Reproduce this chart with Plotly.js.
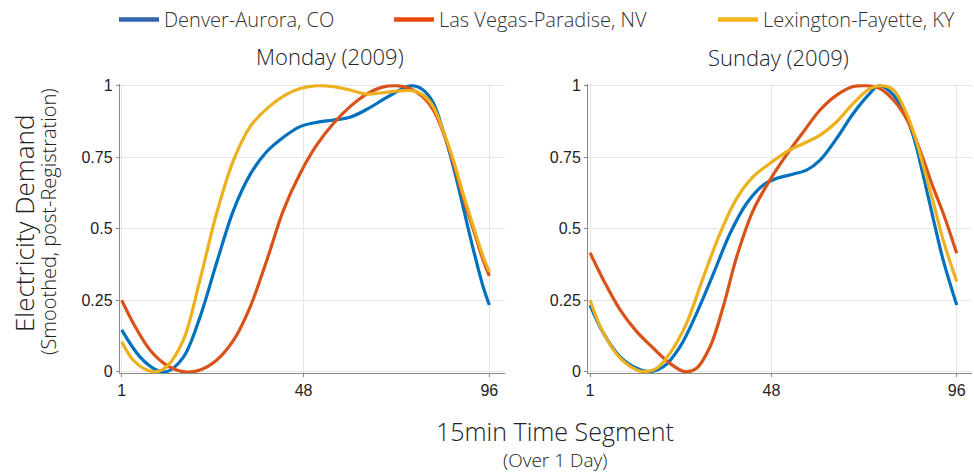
<!DOCTYPE html>
<html>
<head>
<meta charset="utf-8">
<script src="https://cdn.plot.ly/plotly-3.0.1.min.js"></script>
<style>html,body{margin:0;padding:0;background:#fff;}#chart{width:974px;height:473px;}</style>
</head>
<body>
<div id="chart"></div>
<script>
// ---- Data ----
const seriesNames = ["Denver-Aurora, CO", "Las Vegas-Paradise, NV", "Lexington-Fayette, KY"];
const panelTitles = ["Monday (2009)", "Sunday (2009)"];
const xTickVals = [1, 48, 96];
const yTickVals = [0, 0.25, 0.5, 0.75, 1];
const yTickText = ["0", "0.25", "0.5", "0.75", "1"];

// Monday
const monDenverX = [1, 5.7, 10, 12.6, 16.9, 21.2, 25.5, 29.9, 34.2, 38.5, 42.8, 47.1, 51.4, 55.7, 60, 64.3, 68.6, 72.9, 75.9, 78.9, 81.5, 84, 86.7, 89.2, 91.9, 94.4, 96];
const monDenverY = [0.146, 0.052, 0.006, 0, 0.05, 0.19, 0.38, 0.565, 0.69, 0.77, 0.82, 0.857, 0.872, 0.88, 0.89, 0.917, 0.952, 0.985, 1.0, 0.985, 0.94, 0.845, 0.717, 0.577, 0.425, 0.297, 0.233];
const monVegasX = [1, 4, 8.3, 12.6, 16.9, 21.2, 25.5, 29.9, 34.2, 38.5, 42.8, 47.1, 51.4, 55.7, 60, 64.3, 68.6, 72, 75.5, 78.9, 81.5, 84, 86.7, 89.2, 91.9, 94.4, 96];
const monVegasY = [0.25, 0.169, 0.076, 0.023, 0, 0.006, 0.04, 0.11, 0.227, 0.39, 0.565, 0.693, 0.793, 0.868, 0.927, 0.971, 0.996, 1.0, 0.99, 0.96, 0.915, 0.84, 0.73, 0.61, 0.495, 0.39, 0.335];
const monLexX = [1, 4, 7.5, 10, 12.6, 16.9, 21.2, 25.5, 29.9, 34.2, 38.5, 42.8, 47.1, 51.4, 55.7, 60, 64.3, 68.6, 72.9, 76.4, 78.9, 81.5, 84, 86.7, 89.2, 91.9, 94.4, 96];
const monLexY = [0.105, 0.04, 0.006, 0, 0.017, 0.11, 0.32, 0.553, 0.74, 0.857, 0.92, 0.964, 0.99, 1.0, 0.997, 0.985, 0.971, 0.976, 0.982, 0.982, 0.967, 0.927, 0.845, 0.74, 0.623, 0.507, 0.402, 0.35];

// Sunday
const sunDenverX = [1, 4.5, 8.8, 13.1, 16.5, 20, 24.3, 28.6, 33, 37.3, 41.6, 45.9, 49.4, 53.7, 57.1, 60.6, 64.9, 69.2, 73.5, 75.7, 78.7, 82.2, 84.8, 87.4, 90, 92.5, 96];
const sunDenverY = [0.233, 0.134, 0.052, 0.012, 0, 0.017, 0.087, 0.204, 0.344, 0.484, 0.589, 0.653, 0.676, 0.691, 0.705, 0.74, 0.816, 0.903, 0.973, 1.0, 0.98, 0.915, 0.822, 0.682, 0.53, 0.39, 0.233];
const sunVegasX = [1, 4.5, 8.8, 13.1, 17.4, 21.7, 25.6, 28.6, 32.1, 35.5, 39, 43.3, 47.6, 51.9, 56.3, 60.6, 64.9, 69.2, 72.7, 76.1, 79.6, 82.2, 84.8, 87.4, 90, 92.5, 96];
const sunVegasY = [0.416, 0.32, 0.216, 0.14, 0.082, 0.029, 0, 0.012, 0.087, 0.227, 0.402, 0.565, 0.67, 0.758, 0.839, 0.915, 0.967, 0.997, 1.0, 0.99, 0.95, 0.903, 0.833, 0.74, 0.641, 0.554, 0.414];
const sunLexX = [1, 4.5, 8.8, 13.1, 15.2, 18.3, 21.7, 26, 30.4, 34.7, 39, 43.3, 47.6, 51.9, 56.3, 60.6, 64.9, 69.2, 73.5, 76.6, 79.6, 82.2, 84.8, 87.4, 90, 92.5, 96];
const sunLexY = [0.25, 0.134, 0.047, 0.006, 0, 0.012, 0.064, 0.169, 0.332, 0.484, 0.606, 0.682, 0.728, 0.769, 0.798, 0.827, 0.874, 0.938, 0.99, 1.0, 0.985, 0.927, 0.839, 0.717, 0.589, 0.46, 0.315];

// ---- Styles ----
const lineColors = ["#0072BD", "#D95319", "#EDB120"];
const legendColors = ["#3366B0", "#E8490F", "#F5B21C"];
const titleFont = "'Open Sans', Lato, sans-serif";
const tickFont = "Arial, 'Liberation Sans', Helvetica, sans-serif";
const legendX = [114, 389, 713];

const panels = [
  [[monDenverX, monDenverY], [monVegasX, monVegasY], [monLexX, monLexY]],
  [[sunDenverX, sunDenverY], [sunVegasX, sunVegasY], [sunLexX, sunLexY]]
];

const traces = [];
panels.forEach((panel, p) => {
  panel.forEach((s, i) => {
    traces.push({
      x: s[0], y: s[1], type: "scatter", mode: "lines",
      line: {color: lineColors[i], width: 3.2, shape: "spline", smoothing: 1},
      xaxis: p === 0 ? "x" : "x2", yaxis: p === 0 ? "y" : "y2",
      showlegend: false, hoverinfo: "skip"
    });
  });
});
// legend entries (one legend each so they can be placed like the reference)
const legendIds = ["legend", "legend2", "legend3"];
seriesNames.forEach((n, i) => {
  traces.push({
    x: [null], y: [null], type: "scatter", mode: "lines", name: n,
    line: {color: legendColors[i], width: 4.5}, xaxis: "x", yaxis: "y",
    showlegend: true, legend: legendIds[i]
  });
});

function xax(domain) {
  return {
    domain: domain, range: [0.5, 100], tickvals: xTickVals, ticktext: xTickVals.map(String),
    showgrid: true, gridcolor: "#e6e6e6", gridwidth: 1, zeroline: false,
    showline: true, linecolor: "#8a8a8a", linewidth: 1,
    ticks: "outside", ticklen: 3, tickcolor: "#8a8a8a", automargin: false,
    tickfont: {family: tickFont, size: 16, color: "#222"}, fixedrange: true
  };
}
function yax(anchor) {
  return {
    domain: [0.2112, 0.8218], range: [-0.005, 1.005], tickvals: yTickVals, ticktext: yTickText,
    showgrid: true, gridcolor: "#e6e6e6", gridwidth: 1, zeroline: false,
    showline: true, linecolor: "#8a8a8a", linewidth: 1,
    ticks: "outside", ticklen: 3, tickcolor: "#8a8a8a", anchor: anchor, automargin: false,
    tickfont: {family: tickFont, size: 16, color: "#222"}, fixedrange: true
  };
}
function leg(px) {
  return {
    orientation: "h", x: px / 974, y: 1.0, xanchor: "left", yanchor: "top",
    font: {family: titleFont, size: 20, color: "#333", weight: 300},
    itemwidth: 40, bgcolor: "rgba(0,0,0,0)"
  };
}

const layout = {
  width: 974, height: 473,
  margin: {l: 0, r: 0, t: 0, b: 0, pad: 0, autoexpand: false},
  paper_bgcolor: "#fff", plot_bgcolor: "#fff",
  showlegend: true,
  legend: leg(legendX[0]), legend2: leg(legendX[1]), legend3: leg(legendX[2]),
  xaxis: xax([0.123, 0.5183]),
  yaxis: yax("x"),
  xaxis2: Object.assign(xax([0.6038, 0.9981]), {anchor: "y2"}),
  yaxis2: yax("x2"),
  annotations: [
    {text: panelTitles[0], xref: "paper", yref: "paper", x: 330/974, y: 1 - 56/473, xanchor: "center", yanchor: "middle", showarrow: false, font: {family: titleFont, size: 22, color: "#222", weight: 300}},
    {text: panelTitles[1], xref: "paper", yref: "paper", x: 778/974, y: 1 - 57/473, xanchor: "center", yanchor: "middle", showarrow: false, font: {family: titleFont, size: 22, color: "#222", weight: 300}},
    {text: "15min Time Segment", xref: "paper", yref: "paper", x: 555/974, y: 1 - 431/473, xanchor: "center", yanchor: "middle", showarrow: false, font: {family: titleFont, size: 25, color: "#222", weight: 300}},
    {text: "(Over 1 Day)", xref: "paper", yref: "paper", x: 555/974, y: 1 - 460/473, xanchor: "center", yanchor: "middle", showarrow: false, font: {family: titleFont, size: 19, color: "#222", weight: 300}},
    {text: "Electricity Demand", xref: "paper", yref: "paper", x: 24/974, y: 1 - 224/473, xanchor: "center", yanchor: "middle", textangle: -90, showarrow: false, font: {family: titleFont, size: 26, color: "#222", weight: 300}},
    {text: "(Smoothed, post-Registration)", xref: "paper", yref: "paper", x: 48/974, y: 1 - 222/473, xanchor: "center", yanchor: "middle", textangle: -90, showarrow: false, font: {family: titleFont, size: 20, color: "#222", weight: 300}}
  ]
};

Plotly.newPlot("chart", traces, layout, {displayModeBar: false, staticPlot: true});
</script>
</body>
</html>
